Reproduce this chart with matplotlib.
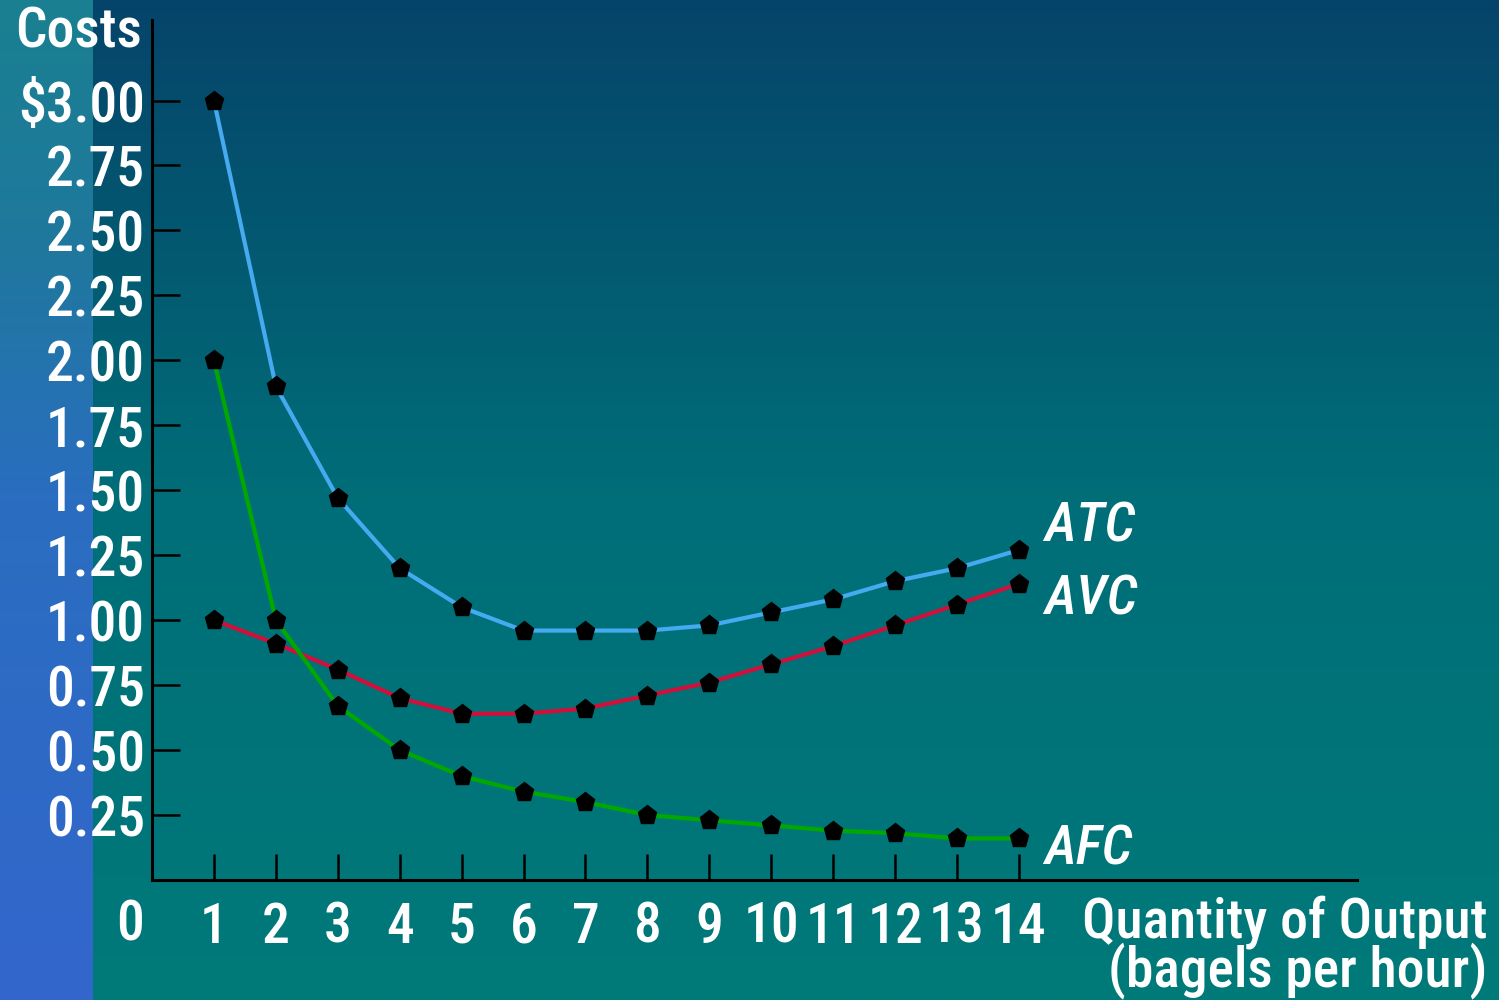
import numpy as np
import matplotlib
matplotlib.use("Agg")
import matplotlib.pyplot as plt
from matplotlib.colors import to_rgb
from matplotlib import font_manager as fm

# pick a condensed sans font if one is installed
cond_name, cond_stretch = None, 'normal'
prefs = ['Liberation Sans Narrow', 'Roboto Condensed', 'Open Sans Condensed',
         'Noto Sans', 'DejaVu Sans', 'Open Sans']
cands = []
for f in fm.fontManager.ttflist:
    st = str(f.stretch)
    is_cond = ('ondensed' in st or 'arrow' in st or
               (st.isdigit() and int(st) < 500) or
               'Narrow' in f.name or 'Condensed' in f.name)
    if is_cond:
        cands.append((f.name, st))
for p in prefs:
    for n, st in cands:
        if n == p:
            cond_name, cond_stretch = n, st
            break
    if cond_name:
        break
if cond_name is None and cands:
    cond_name, cond_stretch = cands[0]
if cond_name is None:
    cond_name, cond_stretch = 'Roboto', 'normal'
    fsize = 34
else:
    fsize = 40

plt.rcParams['font.family'] = [cond_name, 'DejaVu Sans']
plt.rcParams['font.stretch'] = cond_stretch
plt.rcParams['font.weight'] = 'medium'

# ---------------- data ----------------
quantity = [1, 2, 3, 4, 5, 6, 7, 8, 9, 10, 11, 12, 13, 14]
atc = [3.00, 1.90, 1.47, 1.20, 1.05, 0.96, 0.96, 0.96, 0.98, 1.03, 1.08, 1.15, 1.20, 1.27]
avc = [1.00, 0.91, 0.81, 0.70, 0.64, 0.64, 0.66, 0.71, 0.76, 0.83, 0.90, 0.98, 1.06, 1.14]
afc = [2.00, 1.00, 0.67, 0.50, 0.40, 0.34, 0.30, 0.25, 0.23, 0.21, 0.19, 0.18, 0.16, 0.16]
y_ticks = [0.25, 0.50, 0.75, 1.00, 1.25, 1.50, 1.75, 2.00, 2.25, 2.50, 2.75, 3.00]
y_tick_labels = ["0.25", "0.50", "0.75", "1.00", "1.25", "1.50", "1.75", "2.00",
                 "2.25", "2.50", "2.75", "$3.00"]
series_names = ["ATC", "AVC", "AFC"]

W, H = 1499, 1000
fig = plt.figure(figsize=(W / 100, H / 100), dpi=100)

# ---------------- background ----------------
bg = fig.add_axes([0, 0, 1, 1], zorder=-10)
bg.set_axis_off()

def vgrad(stops, n=500):
    ys = np.linspace(0, 1, n)
    pos = [s[0] for s in stops]
    cols = np.array([to_rgb(s[1]) for s in stops])
    arr = np.stack([np.interp(ys, pos, cols[:, k]) for k in range(3)], axis=1)
    return arr[:, None, :]

main = vgrad([(0, "#06446a"), (0.5, "#006e78"), (1, "#007a7a")])
bg.imshow(main, extent=(0, W, H, 0), aspect='auto', interpolation='bilinear')
left = vgrad([(0, "#1a8090"), (0.25, "#1f789e"), (0.5, "#2a6ec0"), (1, "#3366cc")])
bg.imshow(left, extent=(0, 93, H, 0), aspect='auto', interpolation='bilinear')
bg.set_xlim(0, W)
bg.set_ylim(H, 0)

# ---------------- chart ----------------
ax = fig.add_axes([152 / W, 0.12, (1357 - 152) / W, 0.86])
ax.patch.set_alpha(0)
ax.set_xlim(0, 19.46)
ax.set_ylim(0, 3.31)

for s in ['top', 'right']:
    ax.spines[s].set_visible(False)
for s in ['left', 'bottom']:
    ax.spines[s].set_color('black')
    ax.spines[s].set_linewidth(2.2)

colors = {"ATC": "#46aaf0", "AVC": "#d0103a", "AFC": "#00a800"}
data = {"ATC": atc, "AVC": avc, "AFC": afc}
for name in series_names:
    ax.plot(quantity, data[name], color=colors[name], lw=3, zorder=3,
            marker='p', markersize=14, markerfacecolor='black',
            markeredgecolor='black', clip_on=False)

ax.set_yticks(y_ticks)
ax.set_yticklabels(y_tick_labels)
ax.set_xticks(quantity)
ax.set_xticklabels([str(q) for q in quantity])
ax.tick_params(axis='y', direction='in', length=20, width=1.8, color='black',
               labelsize=fsize, labelcolor='white', pad=5)
ax.tick_params(axis='x', direction='in', length=19, width=1.8, color='black',
               labelsize=fsize, labelcolor='white', pad=15)

# origin label
ax.text(-0.35, -0.07, "0", transform=ax.transData, ha='center', va='top',
        fontsize=fsize, color='white', clip_on=False)

# series labels
label_y = {"ATC": 1.36, "AVC": 1.08, "AFC": 0.12}
for name in series_names:
    ax.text(14.4, label_y[name], name, ha='left', va='center', fontsize=fsize,
            color='white', style='italic', clip_on=False)

# axis titles
fig.text(142 / W, 1 - 32 / H, "Costs", ha='right', va='center', fontsize=fsize,
         color='white')
fig.text(1487 / W, 1 - 922 / H, "Quantity of Output", ha='right', va='center',
         fontsize=fsize, color='white')
fig.text(1487 / W, 1 - 971 / H, "(bagels per hour)", ha='right', va='center',
         fontsize=fsize, color='white')

fig.savefig("out.png", dpi=100)
